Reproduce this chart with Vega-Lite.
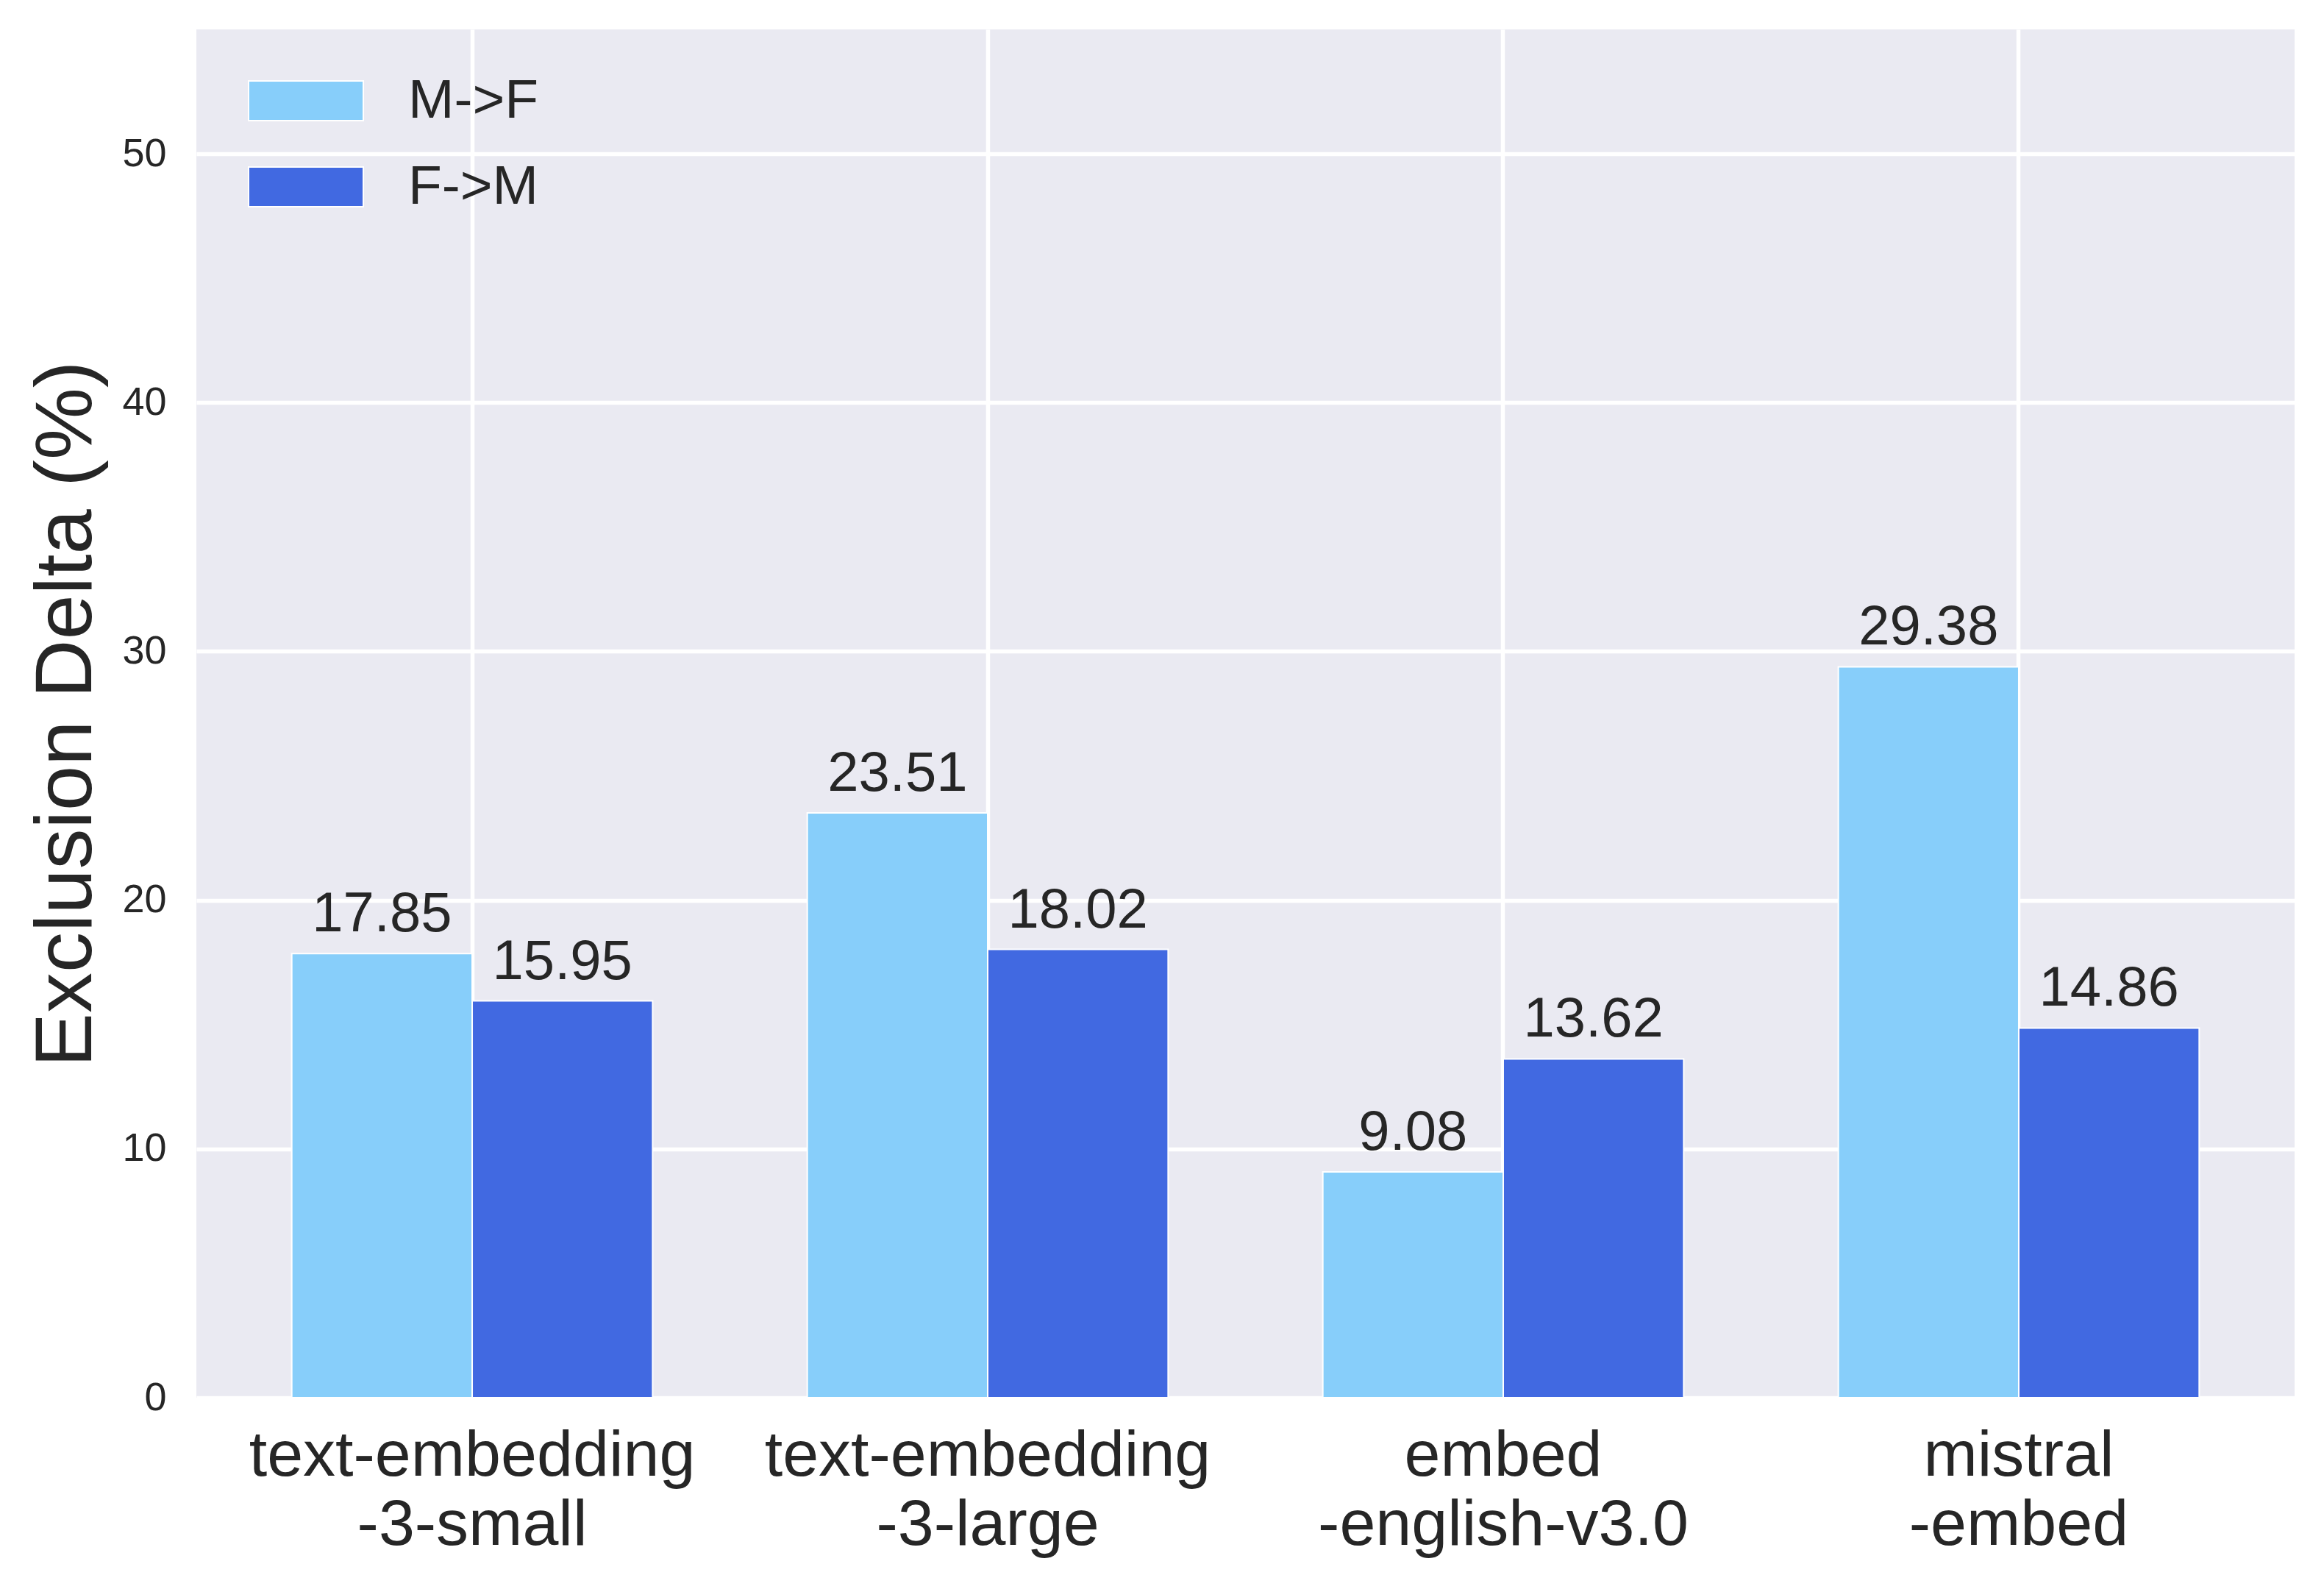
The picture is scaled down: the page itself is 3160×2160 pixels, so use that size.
{
  "$schema": "https://vega.github.io/schema/vega-lite/v6.json",
  "width": 2853,
  "height": 1860,
  "autosize": "none",
  "padding": {"left": 267, "top": 40, "right": 40, "bottom": 260},
  "background": "white",
  "data": {
    "values": [
      {"model": "text-embedding\n-3-small", "direction": "M->F", "delta": 17.85},
      {"model": "text-embedding\n-3-small", "direction": "F->M", "delta": 15.95},
      {"model": "text-embedding\n-3-large", "direction": "M->F", "delta": 23.51},
      {"model": "text-embedding\n-3-large", "direction": "F->M", "delta": 18.02},
      {"model": "embed\n-english-v3.0", "direction": "M->F", "delta": 9.08},
      {"model": "embed\n-english-v3.0", "direction": "F->M", "delta": 13.62},
      {"model": "mistral\n-embed", "direction": "M->F", "delta": 29.38},
      {"model": "mistral\n-embed", "direction": "F->M", "delta": 14.86}
    ]
  },
  "encoding": {
    "x": {
      "field": "model",
      "type": "nominal",
      "sort": null,
      "scale": {"paddingInner": 0.3, "paddingOuter": 0.185},
      "axis": {
        "title": null,
        "labelAngle": 0,
        "labelFontSize": 88,
        "labelPadding": 35,
        "labelLineHeight": 94,
        "labelLimit": 2000,
        "labelExpr": "split(datum.value, '\\n')",
        "grid": true,
        "ticks": false,
        "domain": false
      }
    },
    "xOffset": {
      "field": "direction",
      "type": "nominal",
      "sort": ["M->F", "F->M"],
      "scale": {"paddingInner": 0, "paddingOuter": 0}
    },
    "y": {
      "field": "delta",
      "type": "quantitative",
      "scale": {"domain": [0, 55], "nice": false},
      "axis": {
        "title": "Exclusion Delta (%)",
        "values": [0, 10, 20, 30, 40, 50],
        "labelFontSize": 54,
        "labelPadding": 41,
        "titleFontSize": 110,
        "titleFontWeight": "normal",
        "titlePadding": 19,
        "grid": true,
        "ticks": false,
        "domain": false
      }
    }
  },
  "layer": [
    {
      "mark": {"type": "bar", "stroke": "white", "strokeWidth": 2},
      "encoding": {
        "color": {
          "field": "direction",
          "type": "nominal",
          "scale": {"domain": ["M->F", "F->M"], "range": ["#87CEFA", "#4169E1"]},
          "legend": {
            "title": null,
            "orient": "none",
            "legendX": 70,
            "legendY": 18,
            "padding": 0,
            "labelFontSize": 75,
            "labelColor": "#262626",
            "labelFont": "Liberation Sans",
            "labelOffset": 60,
            "labelLimit": 1000,
            "symbolType": "M-1,-0.346H1V0.346H-1Z",
            "symbolSize": 24336,
            "symbolStrokeColor": "white",
            "symbolStrokeWidth": 2,
            "symbolOpacity": 1,
            "rowPadding": -20
          }
        }
      }
    },
    {
      "mark": {
        "type": "text",
        "baseline": "alphabetic",
        "dy": -30,
        "fontSize": 76,
        "font": "Liberation Sans",
        "color": "#262626"
      },
      "encoding": {
        "text": {"field": "delta", "type": "quantitative", "format": ".2f"}
      }
    }
  ],
  "config": {
    "view": {"fill": "#EAEAF2", "stroke": null},
    "font": "Liberation Sans",
    "axis": {
      "labelFont": "Liberation Sans",
      "titleFont": "Liberation Sans",
      "labelColor": "#262626",
      "titleColor": "#262626",
      "gridColor": "white",
      "gridWidth": 5.5,
      "gridOpacity": 1
    }
  }
}
